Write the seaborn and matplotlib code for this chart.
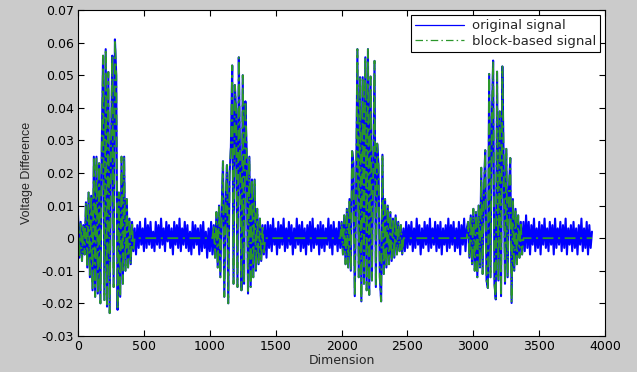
import numpy as np
import pandas as pd
import matplotlib
matplotlib.use("Agg")
import matplotlib.pyplot as plt
import seaborn as sns

# signal values, in mV, one sample every 10 on the Dimension axis
step = 10

burst1 = [7, -6, 5, -7, 4, -5, 11, -9, 14, -12, 13, -16, 25, -18, 25, -17, 23, -20, 28, 56,
          -19, 58, -21, 51, -23, 27, 56, -15, 61, 50, -22, 14, -18, 25, -14, 25, -10, 12, -9, 6,
          -8, 5, -4]
quiet1 = [3, -5, 4, -3, 5, -2, 3, -4, 6, -3, 4, -2, 5, -3, 2, -4, 5, -2, 4, -3,
          6, -2, 3, -4, 5, -1, 4, -3, 3, -5, 5, -2, 4, -3, 6, -4, 3, -2, 5, -3,
          4, -4, 2, -5, 5, -3, 4, -2, 3, -5, 4, -4, 5, -3, 2, -6, 3, -4, 5, -5]
burst2 = [4, -6, 8, -9, 10, -12, 9, 23.6, -18, 11, 22.4, -20, 19.5, 28, 53, -14, 47, 39, -15, 55.5,
          22, -16, 50, -14, 42, 26, -17, 25, -15, 18, -12, 18, -10, 9, -8, 6, -7, 4, -5]
quiet2 = [4, -6, 5, -3, 4, -4, 6, -2, 3, -5, 5, -3, 4, -2, 6, -4, 3, -3, 5, -2,
          4, -5, 3, -3, 6, -2, 4, -4, 5, -3, 3, -5, 4, -2, 5, -4, 6, -3, 3, -2,
          4, -5, 5, -3, 4, -4, 3, -2, 6, -3, 4, -5, 5, -2, 3, -4, 5, -3]
burst3 = [5, -5, 7, -8, 9, -9, 12, -10, 26.7, 23, -17.8, 14, 58, -12, 49.4, -19.4, 49.4, -14, 55.5, -16,
          58, -17.4, 49.6, -13, 20, 54.4, -15, 29, 22.4, -12, -19.4, 25.6, -11, 12, -9, 10, -8, 8, -7, 6,
          -6, 7, -5, 5, -4, 4, -5]
quiet3 = [3, -4, 5, -3, 4, -2, 5, -4, 3, -3, 6, -2, 4, -5, 3, -3, 5, -2, 4, -4,
          6, -3, 3, -2, 5, -4, 4, -3, 5, -5, 3, -2, 4, -4, 6, -3, 4, -2, 5, -4,
          3, -3, 5, -5, 4, -2, 6, -4, 3]
burst4 = [5, -6, 7, -8, 9, -10, 8, -12, 10, -9, 21.6, -11, 14, 27, -13, -15.3, 50.4, -12, 36.6, 54.5,
          -14, -18.8, 51.1, -13, 38.9, -17.8, 52.7, 23.4, -14, 27.4, -12, 15, 24.6, -19.9, 12, -10, 9, -8, 7, -6,
          5, -5]
quiet4 = [5, -4, 7, -3, 5, -5, 4, -2, 6, -4, 3, -3, 5, -5, 4, -2, 6, -3, 3, -4,
          5, -2, 4, -5, 6, -3, 3, -2, 5, -4, 4, -3, 6, -5, 3, -2, 4, -4, 5, -3,
          3, -5, 4, -2, 6, -4, 3, -3, 5, -5, 4, -3, 2]

# block-based signal keeps the bursts and is ~0 in the quiet stretches
original = burst1 + quiet1 + burst2 + quiet2 + burst3 + quiet3 + burst4 + quiet4
block = (burst1 + [0.0] * len(quiet1) + burst2 + [0.0] * len(quiet2)
         + burst3 + [0.0] * len(quiet3) + burst4 + [0.0] * len(quiet4))

dimension = np.arange(len(original)) * step
df = pd.DataFrame({"Dimension": dimension,
                   "original": np.array(original) / 1000.0,
                   "block": np.array(block) / 1000.0})

sns.set_style("ticks")
plt.rcParams["font.family"] = ["DejaVu Sans"]
plt.rcParams["axes.unicode_minus"] = False

fig = plt.figure(figsize=(6.37, 3.72), dpi=100, facecolor="#cbcbcb")
ax = fig.add_axes([0.1225, 0.097, 0.8275, 0.876])
ax.set_facecolor("white")

sns.lineplot(data=df, x="Dimension", y="original", ax=ax, color="#0000ff", lw=1.5,
             estimator=None, sort=False, label="original signal")
sns.lineplot(data=df, x="Dimension", y="block", ax=ax, color="#2a962a", lw=1.3,
             estimator=None, sort=False, label="block-based signal", linestyle=(0, (6, 2.5, 1.2, 2.5)))

ax.set_xlim(0, 4000)
ax.set_ylim(-0.03, 0.07)
ax.set_xticks(np.arange(0, 4001, 500))
ax.set_yticks(np.arange(-0.03, 0.0701, 0.01))
ax.yaxis.set_major_formatter(matplotlib.ticker.FuncFormatter(lambda v, p: "%g" % round(v, 2)))
ax.tick_params(direction="in", top=True, right=True, length=4, width=0.8,
               labelsize=9, colors="black", pad=3)
for s in ax.spines.values():
    s.set_color("black")
    s.set_linewidth(0.8)

ax.set_xlabel("Dimension", fontsize=9, labelpad=1)
ax.set_ylabel("Voltage Difference", fontsize=9, family=["Liberation Sans"], labelpad=6)

leg = ax.legend(loc="upper right", fontsize=9.5, handlelength=3.7, borderaxespad=0.4,
                frameon=True, fancybox=False, framealpha=1, edgecolor="black",
                borderpad=0.3, labelspacing=0.2, handletextpad=0.6)
leg.get_frame().set_linewidth(0.8)
for line in leg.get_lines():
    line.set_linewidth(0.9)

fig.savefig("out.png", dpi=100, facecolor=fig.get_facecolor())
